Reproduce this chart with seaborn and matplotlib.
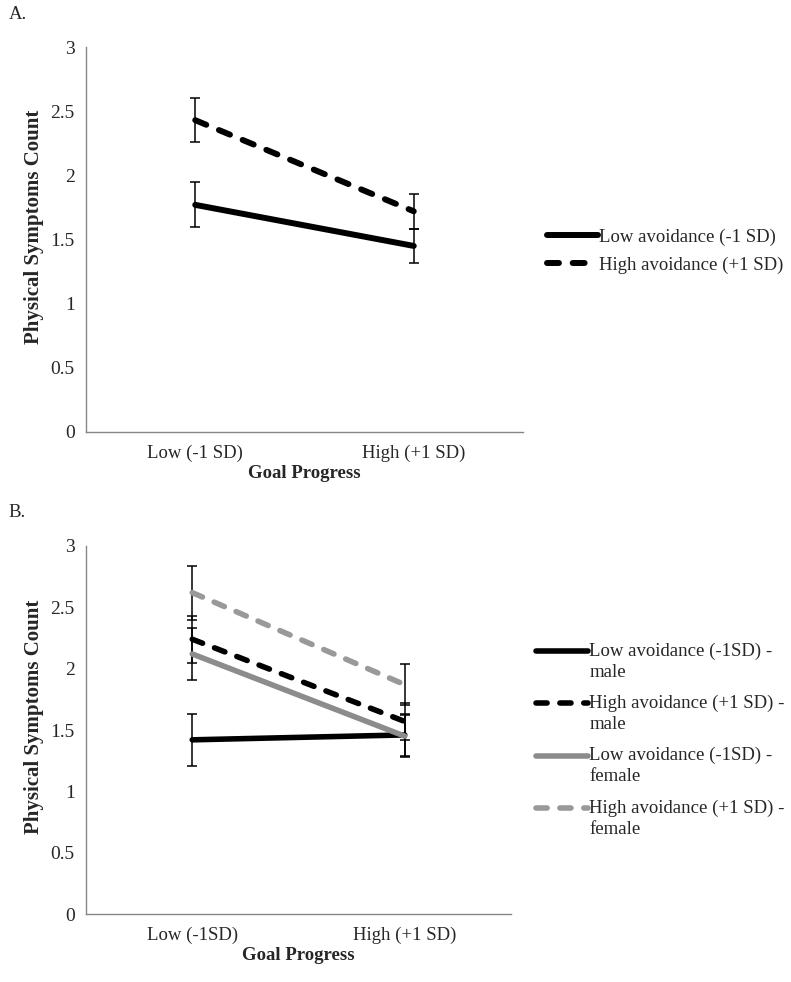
import numpy as np
import pandas as pd
import matplotlib
matplotlib.use("Agg")
import matplotlib.pyplot as plt
import seaborn as sns
from matplotlib.legend_handler import HandlerLine2D

# ---- data ----
progress_a = ["Low (-1 SD)", "High (+1 SD)"]
progress_b = ["Low (-1SD)", "High (+1 SD)"]

labels_a = ["Low avoidance (-1 SD)", "High avoidance (+1 SD)"]
means_a = [[1.77, 1.45], [2.43, 1.72]]
errs_a = [[0.175, 0.135], [0.17, 0.135]]

labels_b = ["Low avoidance (-1SD) -\nmale", "High avoidance (+1 SD) -\nmale",
            "Low avoidance (-1SD) -\nfemale", "High avoidance (+1 SD) -\nfemale"]
means_b = [[1.42, 1.46], [2.24, 1.57], [2.12, 1.45], [2.62, 1.87]]
errs_b = [[0.21, 0.17], [0.19, 0.15], [0.21, 0.17], [0.22, 0.17]]

colors_a = ["black", "black"]
colors_b = ["black", "black", "#8c8c8c", "#999999"]
dashed_a = [False, True]
dashed_b = [False, True, False, True]

sns.set_style("white")
plt.rcParams["font.family"] = ["Liberation Serif", "DejaVu Serif"]
FS = 13.5
AXC = "#868686"


class FirstLineHandler(HandlerLine2D):
    """Put the legend line next to the first line of a two-line label."""
    def __init__(self, shift=0, **kw):
        super().__init__(**kw)
        self.shift = shift

    def create_artists(self, legend, orig_handle, xdescent, ydescent, width,
                       height, fontsize, trans):
        arts = super().create_artists(legend, orig_handle, xdescent, ydescent,
                                      width, height, fontsize, trans)
        for a in arts:
            a.set_ydata(np.asarray(a.get_ydata()) + self.shift)
        return arts


def draw_panel(ax, cats, labels, means, errs, colors, dashed, lw, ylab_pos):
    handles = []
    for lab, m, e, c, d in zip(labels, means, errs, colors, dashed):
        df = pd.DataFrame({"progress": cats, "symptoms": m})
        ls = (0, (2.0, 2.3)) if d else "-"
        sns.lineplot(data=df, x="progress", y="symptoms", ax=ax, color=c,
                     linewidth=lw, linestyle=ls, sort=False, legend=False,
                     solid_capstyle="round", dash_capstyle="round", zorder=3)
        handles.append(ax.lines[-1])
    for m, e in zip(means, errs):
        ax.errorbar([0, 1], m, yerr=e, fmt="none", ecolor="black",
                    elinewidth=1.1, capsize=3.5, capthick=1.1, zorder=2)
    ax.set_xlim(-0.5, 1.5)
    ax.set_ylim(0, 3)
    ax.set_yticks(np.arange(0, 3.01, 0.5))
    ax.set_yticklabels(["%g" % v for v in np.arange(0, 3.01, 0.5)])
    ax.set_xticks([0, 1])
    ax.set_xticklabels(cats)
    ax.set_xticks([-0.5, 0.5, 1.5], minor=True)
    ax.tick_params(axis="x", which="major", length=0, pad=9, labelsize=FS)
    ax.tick_params(axis="x", which="minor", length=5, direction="out",
                   color=AXC, width=1)
    ax.tick_params(axis="y", length=5, direction="out", color=AXC, width=1,
                   labelsize=FS + 0.5, pad=3)
    for s in ["top", "right"]:
        ax.spines[s].set_visible(False)
    for s in ["left", "bottom"]:
        ax.spines[s].set_color(AXC)
        ax.spines[s].set_linewidth(1)
    ax.set_xlabel("Goal Progress", fontsize=FS, fontweight="bold", labelpad=2)
    ax.set_ylabel("Physical Symptoms Count", fontsize=15, fontweight="bold")
    ax.yaxis.set_label_coords(*ylab_pos)
    return handles


fig = plt.figure(figsize=(7.91, 9.82), dpi=100)
ax_a = fig.add_axes([0.1087, 0.5601, 0.5525, 0.392])
ax_b = fig.add_axes([0.1087, 0.0692, 0.5373, 0.3748])

h_a = draw_panel(ax_a, progress_a, labels_a, means_a, errs_a, colors_a,
                 dashed_a, 4.3, (-0.096, 0.532))
h_b = draw_panel(ax_b, progress_b, labels_b, means_b, errs_b, colors_b,
                 dashed_b, 4.0, (-0.099, 0.535))

ax_a.legend(h_a, labels_a, loc="center left", bbox_to_anchor=(0.6915, 0.7444),
            bbox_transform=fig.transFigure, frameon=False, fontsize=FS,
            handlelength=2.7, handletextpad=0.1, labelspacing=0.57,
            borderpad=0, borderaxespad=0)

leg_b = ax_b.legend(h_b, labels_b, loc="center left",
                    bbox_to_anchor=(0.6776, 0.2464),
                    bbox_transform=fig.transFigure, frameon=False, fontsize=FS,
                    handlelength=2.75, handletextpad=0.1, labelspacing=0.75,
                    borderpad=0, borderaxespad=0,
                    handler_map={h: FirstLineHandler(shift=7.6) for h in h_b})
for t in leg_b.get_texts():
    t.set_linespacing(1.3)

fig.text(0.011, 0.985, "A.", fontsize=FS, va="center", ha="left")
fig.text(0.011, 0.4786, "B.", fontsize=FS, va="center", ha="left")

fig.savefig("out.png", dpi=100)
